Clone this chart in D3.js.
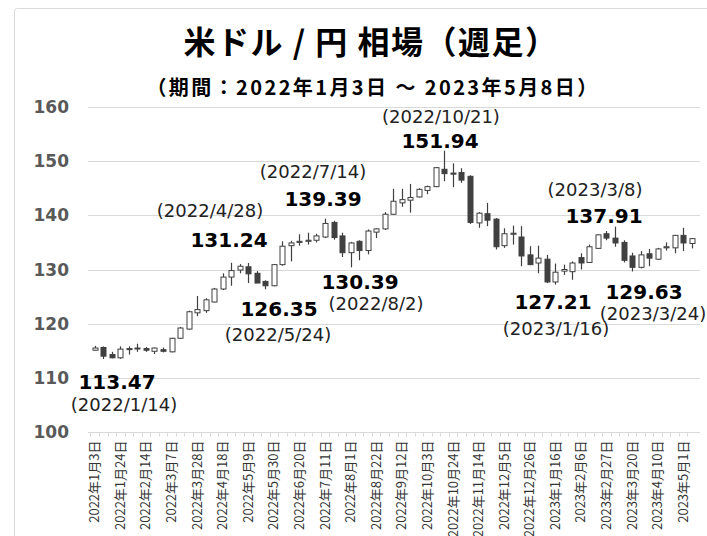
<!DOCTYPE html>
<meta charset="utf-8">
<script src="https://d3js.org/d3.v7.min.js"></script>
<style>
body { margin: 0; background: #fff; }
text { font-family: "DejaVu Sans", Verdana, sans-serif; }
</style>
<body>
<script>

// weekly candles, week starting Monday
var weeks = [
  "2022-01-03","2022-01-10","2022-01-17","2022-01-24","2022-01-31","2022-02-07","2022-02-14","2022-02-21",
  "2022-02-28","2022-03-07","2022-03-14","2022-03-21","2022-03-28","2022-04-04","2022-04-11","2022-04-18",
  "2022-04-25","2022-05-02","2022-05-09","2022-05-16","2022-05-23","2022-05-30","2022-06-06","2022-06-13",
  "2022-06-20","2022-06-27","2022-07-04","2022-07-11","2022-07-18","2022-07-25","2022-08-01","2022-08-08",
  "2022-08-15","2022-08-22","2022-08-29","2022-09-05","2022-09-12","2022-09-19","2022-09-26","2022-10-03",
  "2022-10-10","2022-10-17","2022-10-24","2022-10-31","2022-11-07","2022-11-14","2022-11-21","2022-11-28",
  "2022-12-05","2022-12-12","2022-12-19","2022-12-26","2023-01-02","2023-01-09","2023-01-16","2023-01-23",
  "2023-01-30","2023-02-06","2023-02-13","2023-02-20","2023-02-27","2023-03-06","2023-03-13","2023-03-20",
  "2023-03-27","2023-04-03","2023-04-10","2023-04-17","2023-04-24","2023-05-01","2023-05-08"
];

var open = [
  115.1,115.6,114.3,113.7,115.3,115.4,115.4,114.9,115.2,114.8,117.3,119.0,122.0,122.4,124.0,126.4,
  128.6,129.9,130.5,129.3,127.8,127.0,130.9,134.4,135.0,135.2,135.4,136.0,138.7,136.2,133.1,135.2,
  133.5,136.9,137.5,140.2,142.3,142.8,143.4,144.6,145.3,148.5,147.8,147.9,147.2,138.6,140.3,139.3,
  134.4,136.5,136.0,132.7,131.2,131.9,127.7,129.7,129.6,132.2,131.3,133.9,136.6,135.8,135.0,132.5,
  130.4,132.9,131.9,134.0,134.0,136.3,134.8
];
var high = [
  115.9,115.8,114.8,115.8,115.8,116.3,115.7,115.6,115.6,117.4,119.4,122.4,125.1,124.7,126.6,129.3,
  131.24,131.0,131.2,129.7,128.0,131.0,135.2,135.3,136.5,136.8,136.6,139.39,139.0,136.8,135.1,135.4,
  137.4,137.6,140.6,144.9,144.9,145.8,145.0,145.5,148.9,151.94,149.6,148.7,147.4,140.6,142.3,139.5,
  137.6,138.1,138.0,134.3,134.4,132.7,131.1,130.9,131.5,133.0,134.6,136.5,137.1,137.91,135.4,133.1,
  133.4,133.8,134.0,135.0,136.4,137.7,135.8
];
var low = [
  115.0,113.47,113.6,113.5,114.3,114.8,114.8,114.4,114.7,114.7,117.2,118.9,121.4,122.0,123.9,126.2,
  127.0,129.3,127.5,127.5,126.35,126.9,130.7,131.5,134.4,134.6,135.0,135.8,135.5,132.3,130.39,131.7,
  132.8,135.8,137.3,140.1,141.6,140.5,143.3,143.9,145.2,146.3,145.2,146.0,138.4,137.7,138.0,133.7,
  134.0,134.6,130.6,130.8,129.3,127.5,127.21,129.0,128.1,130.0,131.2,133.8,135.4,134.2,131.3,129.63,
  130.2,130.6,131.8,133.5,133.0,133.4,133.9
];
var close = [
  115.5,114.0,113.7,115.3,115.4,115.5,115.1,115.5,114.9,117.3,119.2,122.2,122.6,124.4,126.4,128.6,
  129.8,130.6,129.2,127.5,127.0,130.9,134.3,134.9,135.2,135.4,136.2,138.5,135.9,133.1,134.9,133.5,
  137.1,137.5,140.2,142.6,142.9,143.3,144.8,145.3,148.8,147.7,147.6,146.5,138.7,140.4,139.1,134.2,
  136.6,136.7,132.5,130.9,132.1,127.7,129.5,130.0,131.2,131.2,134.2,136.4,135.8,134.9,131.7,130.4,
  132.7,132.1,133.8,134.2,136.3,134.9,135.7
];

var yTicks = [100, 110, 120, 130, 140, 150, 160];

// highs and lows called out on the chart
var calloutValues = ["113.47", "131.24", "126.35", "139.39", "130.39", "151.94", "137.91", "127.21", "129.63"];
var calloutDates = ["(2022/1/14)", "(2022/4/28)", "(2022/5/24)", "(2022/7/14)", "(2022/8/2)",
                    "(2022/10/21)", "(2023/3/8)", "(2023/1/16)", "(2023/3/24)"];

var width = 707, height = 536;

var svg = d3.select("body").append("svg")
    .attr("width", width)
    .attr("height", height);

// chart frame
svg.append("rect")
    .attr("x", 14.5).attr("y", 8.5)
    .attr("width", 730).attr("height", 560)
    .attr("rx", 3)
    .attr("fill", "#fff")
    .attr("stroke", "#d9d9d9");

svg.append("text")
    .attr("x", 371).attr("y", 54)
    .attr("text-anchor", "middle")
    .style("font-family", "'Noto Sans CJK JP', sans-serif")
    .style("font-size", "32px").style("font-weight", "bold")
    .style("letter-spacing", "1.5px")
    .text("米ドル / 円 相場（週足）");

svg.append("text")
    .attr("x", 373).attr("y", 95)
    .attr("text-anchor", "middle")
    .style("font-family", "'Noto Sans CJK JP', sans-serif")
    .style("font-size", "20px").style("font-weight", "bold")
    .style("letter-spacing", "2.4px")
    .text("（期間：2022年1月3日 ～ 2023年5月8日）");

var x = d3.scaleBand()
    .domain(weeks)
    .range([90.5, 696]);

var y = d3.scaleLinear()
    .domain([100, 160])
    .range([432, 107]);

// gridlines
svg.append("g").selectAll("line")
    .data(yTicks.slice(1))
    .enter().append("line")
    .attr("x1", 88).attr("x2", 700)
    .attr("y1", function(d) { return Math.round(y(d)) + 0.5; })
    .attr("y2", function(d) { return Math.round(y(d)) + 0.5; })
    .attr("stroke", "#d9d9d9").attr("stroke-width", 1);

svg.append("g").selectAll("text")
    .data(yTicks)
    .enter().append("text")
    .attr("x", 69)
    .attr("y", function(d) { return y(d) + 6; })
    .attr("text-anchor", "end")
    .style("font-size", "17px").style("font-weight", "bold")
    .attr("fill", "#595959")
    .text(function(d) { return d; });

// x axis
var fmt = function(s) {
  var p = s.split("-");
  return p[0] + "年" + (+p[1]) + "月" + (+p[2]) + "日";
};
var xAxis = d3.axisBottom(x)
    .tickValues(weeks.filter(function(d, i) { return i % 3 == 0; }))
    .tickSize(0)
    .tickFormat(fmt);

var gx = svg.append("g")
    .attr("transform", "translate(0," + (Math.round(y(100)) + 0.5) + ")")
    .call(xAxis);
gx.select(".domain").attr("stroke", "#d9d9d9").attr("d", "M88,0H700");
gx.selectAll("text")
    .attr("transform", "rotate(-90)")
    .attr("x", -8).attr("y", 0).attr("dy", "0.35em")
    .attr("text-anchor", "end")
    .style("font-family", "'Noto Sans CJK JP', sans-serif")
    .style("font-size", "13px")
    .attr("fill", "#333");

// small ticks between weeks
gx.append("g").selectAll("line")
    .data(weeks)
    .enter().append("line")
    .attr("x1", function(d) { return Math.round(x(d)) + 0.5; })
    .attr("x2", function(d) { return Math.round(x(d)) + 0.5; })
    .attr("y1", 0).attr("y2", 4)
    .attr("stroke", "#d9d9d9");

// candles
var idx = d3.range(weeks.length);
var cx = function(i) { return Math.round(x(weeks[i]) + x.bandwidth() / 2) + 0.5; };
var candles = svg.append("g").selectAll("g")
    .data(idx)
    .enter().append("g");

candles.append("line")
    .attr("x1", cx).attr("x2", cx)
    .attr("y1", function(i) { return y(high[i]); })
    .attr("y2", function(i) { return y(low[i]); })
    .attr("stroke", "#404040").attr("stroke-width", 1.2);

candles.append("rect")
    .attr("x", function(i) { return cx(i) - 2.5; })
    .attr("width", 5)
    .attr("y", function(i) { return y(Math.max(open[i], close[i])); })
    .attr("height", function(i) { return Math.max(1, Math.abs(y(open[i]) - y(close[i]))); })
    .attr("fill", function(i) { return close[i] >= open[i] ? "#fff" : "#404040"; })
    .attr("stroke", "#404040").attr("stroke-width", 1);

// callouts: [value x, value baseline, date x, date baseline]
var calloutPos = [
  [117, 389, 124, 411],
  [229, 247, 210, 217],
  [279, 316, 278, 341],
  [323, 206, 313, 178],
  [360, 289, 376, 310],
  [440, 148, 441, 123],
  [604, 223, 595, 196],
  [553, 309, 556, 335],
  [644, 299, 653, 320]
];

var callouts = svg.append("g").selectAll("g")
    .data(calloutPos)
    .enter().append("g");

callouts.append("text")
    .attr("x", function(d) { return d[0]; })
    .attr("y", function(d) { return d[1]; })
    .attr("text-anchor", "middle")
    .style("font-size", "20px").style("font-weight", "bold")
    .attr("fill", "#000")
    .text(function(d, i) { return calloutValues[i]; });

callouts.append("text")
    .attr("x", function(d) { return d[2]; })
    .attr("y", function(d) { return d[3]; })
    .attr("text-anchor", "middle")
    .style("font-size", "18px")
    .attr("fill", "#222")
    .text(function(d, i) { return calloutDates[i]; });

</script>
</body>
</html>
